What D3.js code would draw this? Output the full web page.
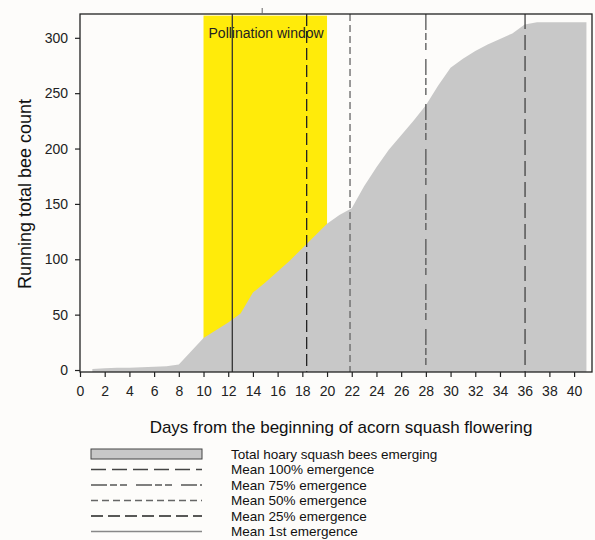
<!DOCTYPE html>
<html>
<head>
<meta charset="utf-8">
<script src="https://cdn.jsdelivr.net/npm/d3@7"></script>
<style>
  body { margin: 0; background: #fdfcfa; }
  svg { display: block; font-family: "Liberation Sans", Arial, sans-serif; }
</style>
</head>
<body>
<div id="chart"></div>
<script>
// running total of bees by day
let days = [1,2,3,4,5,6,7,8,9,10,11,12,13,14,15,16,17,18,19,20,21,22,23,24,25,26,27,28,29,30,31,32,33,34,35,36,37,38,39,40,41];
let beeTotals = [1,1.5,2,2,2.5,3,3.5,5,17,29,36,43,51,70,79,89,99,110,121,132,140,146,166,183,199,212,225,239,257,273,281,288,294,299,304,312,314,314,314,314,314];

let windowStart = 10, windowEnd = 20;
let emergenceNames = ['Mean 1st emergence', 'Mean 25% emergence', 'Mean 50% emergence', 'Mean 75% emergence', 'Mean 100% emergence'];
let emergenceDays = [12.33, 18.35, 21.86, 28.0, 36.03];
let emergenceDash = [null, '12,5', '7,4', '16,3,7,3,7,9', '15,6'];
let emergenceColor = ['#333', '#222', '#666', '#555', '#444'];

let legendOrder = ['Total hoary squash bees emerging', 'Mean 100% emergence', 'Mean 75% emergence', 'Mean 50% emergence', 'Mean 25% emergence', 'Mean 1st emergence'];

let xTicks = d3.range(0, 41, 2);
let yTicks = [0, 50, 100, 150, 200, 250, 300];
let topMark = [14.75];

let width = 595, height = 540;
let plotLeft = 80, plotRight = 592, plotTop = 14, plotBottom = 372;
let areaFill = '#c8c8c8', windowFill = '#ffeb0a';

let svg = d3.select('#chart').append('svg')
    .attr('width', width)
    .attr('height', height);

let x = d3.scaleLinear().domain([0, 41.45]).range([plotLeft, plotRight]);
let y = d3.scaleLinear().domain([-1.8, 321.5]).range([plotBottom, plotTop]);

// pollination window
svg.append('rect')
    .attr('x', x(windowStart))
    .attr('y', y(320))
    .attr('width', x(windowEnd) - x(windowStart))
    .attr('height', plotBottom - y(320))
    .attr('fill', windowFill);

svg.append('text')
    .attr('x', x(windowStart) + 5)
    .attr('y', 38)
    .attr('font-size', 14)
    .attr('fill', '#222')
    .text('Pollination window');

// running total area
let area = d3.area()
    .x((d, i) => x(days[i]))
    .y0(plotBottom)
    .y1(d => y(d));

svg.append('path')
    .datum(beeTotals)
    .attr('d', area)
    .attr('fill', areaFill);

// emergence lines
svg.selectAll('.emerge')
    .data(emergenceDays)
    .enter()
    .append('line')
    .attr('class', 'emerge')
    .attr('x1', d => x(d)).attr('x2', d => x(d))
    .attr('y1', plotTop).attr('y2', plotBottom)
    .attr('stroke', (d, i) => emergenceColor[i])
    .attr('stroke-width', 1.3)
    .attr('stroke-dasharray', (d, i) => emergenceDash[i]);

// frame
svg.append('rect')
    .attr('x', plotLeft).attr('y', plotTop)
    .attr('width', plotRight - plotLeft).attr('height', plotBottom - plotTop)
    .attr('fill', 'none')
    .attr('stroke', '#222')
    .attr('stroke-width', 1.3);

svg.selectAll('.topmark')
    .data(topMark)
    .enter()
    .append('line')
    .attr('x1', d => x(d)).attr('x2', d => x(d))
    .attr('y1', plotTop - 6).attr('y2', plotTop)
    .attr('stroke', '#666');

// axes
let xAxis = svg.append('g')
    .attr('transform', 'translate(0,' + plotBottom + ')')
    .call(d3.axisBottom(x).tickValues(xTicks).tickSize(5).tickPadding(9));
let yAxis = svg.append('g')
    .attr('transform', 'translate(' + plotLeft + ',0)')
    .call(d3.axisLeft(y).tickValues(yTicks).tickSize(5).tickPadding(7));

[xAxis, yAxis].forEach(a => {
    a.select('.domain').remove();
    a.selectAll('line').attr('stroke', '#222').attr('stroke-width', 1.2);
    a.selectAll('text').attr('font-size', 14).attr('fill', '#222')
        .attr('font-family', '"Liberation Sans", Arial, sans-serif');
});

svg.append('text')
    .attr('x', 341)
    .attr('y', 433)
    .attr('text-anchor', 'middle')
    .attr('font-size', 17)
    .attr('fill', '#111')
    .text('Days from the beginning of acorn squash flowering');

svg.append('text')
    .attr('transform', 'translate(25,194) rotate(-90)')
    .attr('text-anchor', 'middle')
    .attr('dy', '0.35em')
    .attr('font-size', 18)
    .attr('fill', '#111')
    .text('Running total bee count');

// legend
let legendX0 = 91, legendX1 = 202, legendTextX = 231;
let legendY = i => 454 + i * 15.5;

let legend = svg.append('g');
legendOrder.forEach((name, i) => {
    let cy = legendY(i);
    if (i == 0) {
        legend.append('rect')
            .attr('x', legendX0).attr('y', cy - 5)
            .attr('width', legendX1 - legendX0).attr('height', 10)
            .attr('fill', areaFill)
            .attr('stroke', '#444');
    } else {
        let k = emergenceNames.indexOf(name);
        legend.append('line')
            .attr('x1', legendX0).attr('x2', legendX1)
            .attr('y1', cy).attr('y2', cy)
            .attr('stroke', k == 0 ? '#888' : emergenceColor[k])
            .attr('stroke-width', 1.3)
            .attr('stroke-dasharray', emergenceDash[k]);
    }
    legend.append('text')
        .attr('x', legendTextX)
        .attr('y', cy)
        .attr('dy', '0.36em')
        .attr('font-size', 13.5)
        .attr('fill', '#111')
        .text(name);
});
</script>
</body>
</html>
